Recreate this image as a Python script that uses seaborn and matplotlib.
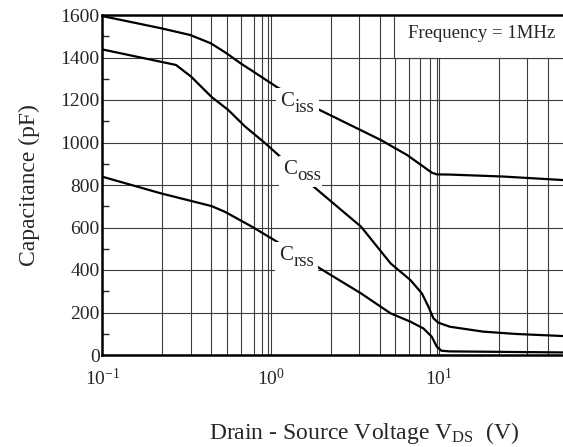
import numpy as np
import pandas as pd
import matplotlib
matplotlib.use("Agg")
import matplotlib.pyplot as plt
from matplotlib.patches import Rectangle
from matplotlib.transforms import ScaledTranslation
from matplotlib.ticker import FixedLocator, LogFormatterSciNotation, NullFormatter
import seaborn as sns

# ===================== data =====================
ciss_vds = [0.1, 0.225, 0.332, 0.44, 0.546, 0.663, 0.79, 1.09, 1.95, 4.49, 6.44, 8.06, 9.02, 9.66, 11.6, 23.7, 55]
ciss_pf = [1595, 1537, 1506, 1467, 1420, 1372, 1333, 1260, 1153, 1012, 941, 886, 858, 850, 849, 840, 823]

coss_vds = [0.1, 0.2735, 0.3365, 0.444, 0.559, 0.704, 0.928, 1.138, 1.747, 3.43, 5.14, 6.73, 7.88, 8.62,
            9.22, 9.87, 11.56, 18.2, 28.5, 55]
coss_pf = [1438, 1365, 1310, 1215, 1153, 1075, 996, 933, 800, 604, 431, 353, 290, 227,
           173, 152, 133, 110, 99, 89]

crss_vds = [0.1, 0.222, 0.444, 0.534, 0.772, 1.089, 1.953, 3.43, 5.14, 6.73, 8.05, 9.02, 9.66, 10.3, 11.56, 55]
crss_pf = [839, 761, 701, 674, 604, 533, 408, 290, 196, 157, 125, 86, 39, 20, 17, 12]

curve_names = ["iss", "oss", "rss"]
# where each "C" label sits (baseline, left edge)
label_vds = [1.141, 1.18, 1.116]
label_pf = [1173, 850, 447]

# grid lines of the original chart (they sit a little off the true log positions)
x_grid_minor = [0.225, 0.334, 0.44, 0.55, 0.67, 0.79, 0.89, 0.967,
                2.29, 3.35, 4.43, 5.45, 6.58, 7.71, 8.82, 9.64,
                22.5, 33.1, 44.2]
x_major = [0.1, 1, 10]
y_major = np.arange(0, 1601, 200)
y_minor = np.arange(100, 1600, 200)

df = pd.concat([
    pd.DataFrame({"vds": ciss_vds, "cap": ciss_pf, "curve": "iss"}),
    pd.DataFrame({"vds": coss_vds, "cap": coss_pf, "curve": "oss"}),
    pd.DataFrame({"vds": crss_vds, "cap": crss_pf, "curve": "rss"}),
], ignore_index=True)

# ===================== style =====================
sns.set_theme(style="white")
plt.rcParams["font.family"] = ["Liberation Serif", "DejaVu Serif"]
plt.rcParams["mathtext.fontset"] = "custom"
plt.rcParams["mathtext.rm"] = "Liberation Serif"
plt.rcParams["mathtext.it"] = "Liberation Serif:italic"
plt.rcParams["mathtext.bf"] = "Liberation Serif:bold"

fig = plt.figure(figsize=(5.63, 4.47), dpi=100)
ax = fig.add_axes([102.3 / 563, 1 - 355 / 447, 1 - 102.3 / 563, 340 / 447])

sns.lineplot(data=df, x="vds", y="cap", hue="curve", palette={n: "black" for n in curve_names},
             estimator=None, sort=False, lw=1.6, legend=False, ax=ax, zorder=3)

ax.set_xscale("log")
ax.set_xlim(0.1, 10 ** 1.734)
ax.set_ylim(0, 1600)

ax.xaxis.set_major_locator(FixedLocator(x_major))
ax.xaxis.set_major_formatter(LogFormatterSciNotation())
ax.xaxis.set_minor_locator(FixedLocator(x_grid_minor))
ax.xaxis.set_minor_formatter(NullFormatter())
ax.yaxis.set_major_locator(FixedLocator(y_major))
ax.yaxis.set_minor_locator(FixedLocator(y_minor))

grid_kw = dict(color="#3c3c3c", lw=0.8)
ax.grid(axis="x", which="both", **grid_kw)
ax.grid(axis="y", which="major", **grid_kw)
ax.set_axisbelow(True)

ax.tick_params(axis="x", which="both", length=0, pad=9, labelsize=14)
ax.tick_params(axis="y", which="major", length=0, pad=2, labelsize=14)
ax.tick_params(axis="y", which="minor", direction="in", length=5, width=1, left=True)

for side in ["left", "bottom", "top"]:
    ax.spines[side].set_linewidth(1.8)
    ax.spines[side].set_color("black")
ax.spines["right"].set_visible(False)

ax.set_xlabel(r"Drain - Source Voltage V$_{\mathrm{DS}}$  (V)", fontsize=17)
ax.xaxis.label.set_va("baseline")
ax.xaxis.set_label_coords(0.568, -0.247)
ax.set_ylabel("Capacitance (pF)", fontsize=17)
ax.yaxis.label.set_va("center")
ax.yaxis.set_label_coords(-0.159, 0.5)

# curve labels: big "C" plus a nearly full-size, lowered subscript,
# on a white patch (sized in points around the label anchor) that cuts curve and grid
for name, xv, yv in zip(curve_names, label_vds, label_pf):
    anchor = fig.dpi_scale_trans + ScaledTranslation(xv, yv, ax.transData)
    ax.add_patch(Rectangle((-3 / 72, -9 / 72), 31 / 72, 22 / 72, transform=anchor,
                           fc="white", ec="none", zorder=4, clip_on=False))
    ax.annotate("C", xy=(xv, yv), ha="left", va="baseline", fontsize=15, zorder=5)
    ax.annotate(name, xy=(xv, yv), xytext=(10.3, -4.3), textcoords="offset points",
                ha="left", va="baseline", fontsize=13.5, zorder=5)

# frequency box
ax.add_patch(Rectangle((0.633, 0.875), 0.4, 0.2, transform=ax.transAxes, fc="white",
                       ec="#3c3c3c", lw=0.8, zorder=2, clip_on=True))
ax.text(0.983, 0.947, "Frequency = 1MHz", transform=ax.transAxes, ha="right", va="center",
        fontsize=13.5, zorder=4)

fig.savefig("out.png", dpi=100)
